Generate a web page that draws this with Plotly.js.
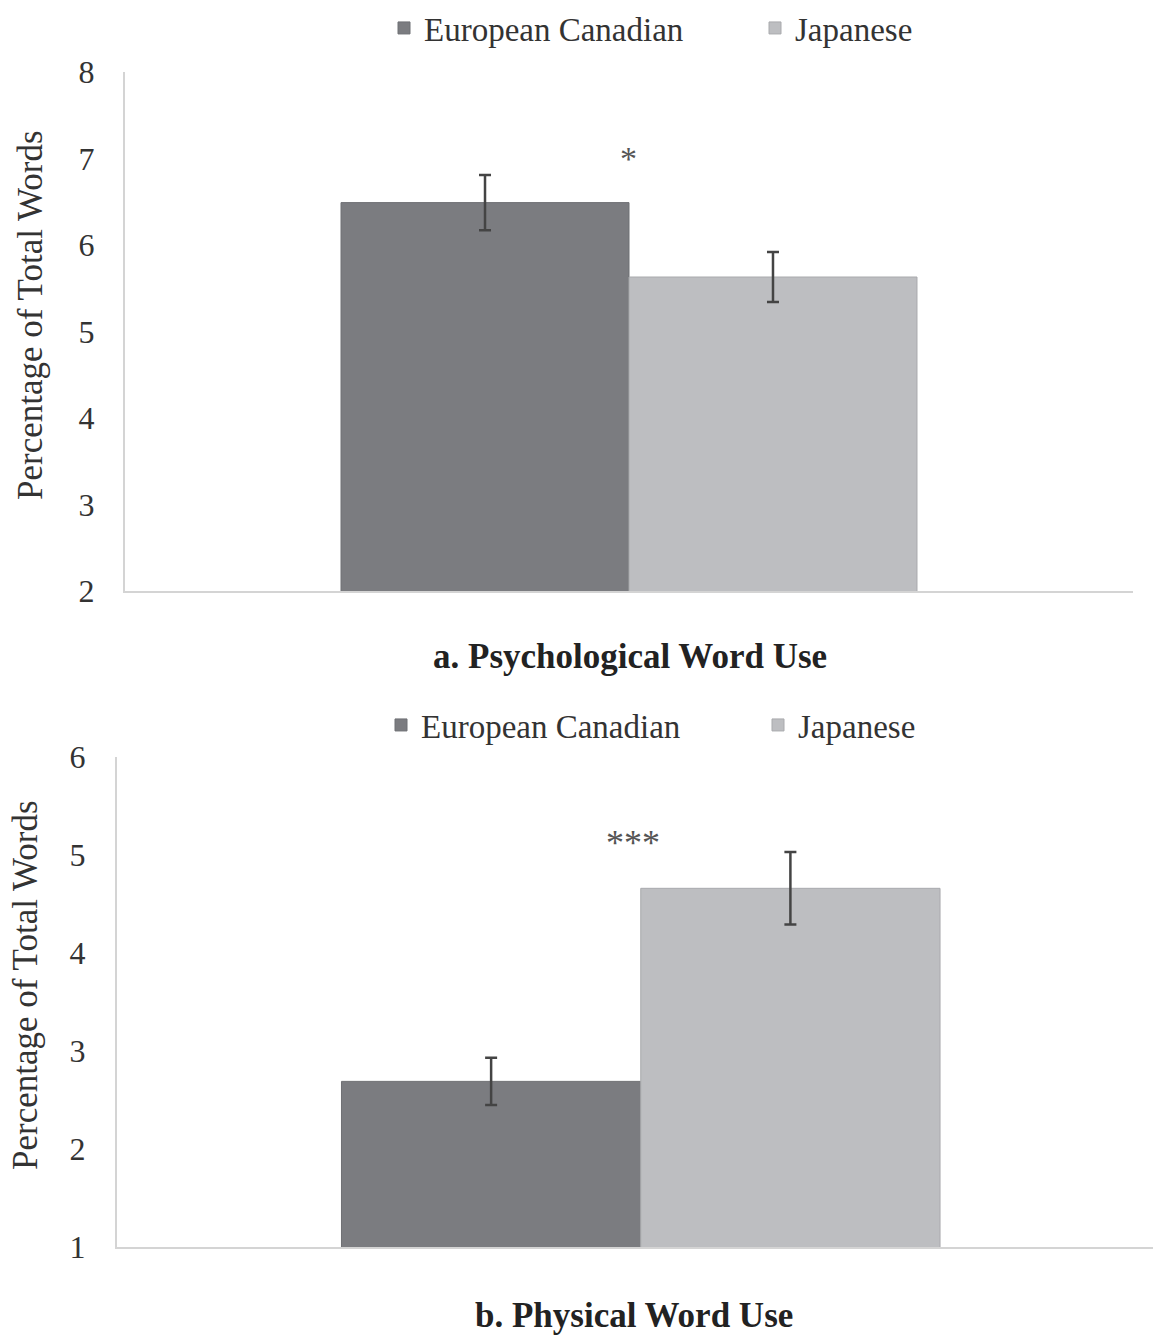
<!DOCTYPE html>
<html>
<head>
<meta charset="utf-8">
<script src="https://cdn.plot.ly/plotly-3.0.1.min.js"></script>
<style>html,body{margin:0;padding:0;background:#fff;}#chart{width:1153px;height:1336px;}</style>
</head>
<body>
<div id="chart"></div>
<script>
// Data
const groups = ["European Canadian", "Japanese"];
const psychMeans = [6.49, 5.63];
const psychErrors = [0.32, 0.29];
const physMeans = [2.69, 4.66];
const physErrors = [0.24, 0.37];
const panelTitles = ["a. Psychological Word Use", "b. Physical Word Use"];
const psychSig = "*";
const physSig = "***";
const yTitle = "Percentage of Total Words";

const colors = ["#7b7c80", "#bdbec1"];
const edge = ["#6f7074", "#a9aaad"];
const serif = "Liberation Serif, Times New Roman, serif";

const W = 1153, H = 1336;
const px = v => v / W;
const py = v => 1 - v / H;

const traces = [];
groups.forEach((g, i) => {
  traces.push({
    type: "bar", name: g, x: [0], y: [psychMeans[i]],
    xaxis: "x", yaxis: "y", legend: "legend",
    marker: {color: colors[i], line: {color: edge[i], width: 1}},
    error_y: {type: "data", array: [psychErrors[i]], visible: true, color: "#444", thickness: 2.5, width: 6},
    hoverinfo: "skip"
  });
});
groups.forEach((g, i) => {
  traces.push({
    type: "bar", name: g, x: [0], y: [physMeans[i]],
    xaxis: "x2", yaxis: "y2", legend: "legend2",
    marker: {color: colors[i], line: {color: edge[i], width: 1}},
    error_y: {type: "data", array: [physErrors[i]], visible: true, color: "#444", thickness: 2.5, width: 6},
    hoverinfo: "skip"
  });
});

const axisCommon = {
  showgrid: false, zeroline: false, showline: true,
  linecolor: "#d4d4d4", linewidth: 2, ticks: "",
  tickfont: {family: serif, size: 32, color: "#333"}
};

const layout = {
  width: W, height: H,
  margin: {l: 0, r: 0, t: 0, b: 0},
  paper_bgcolor: "#fff", plot_bgcolor: "#fff",
  barmode: "group", bargap: 0.4286, bargroupgap: 0,
  showlegend: true,
  xaxis: Object.assign({}, axisCommon, {domain: [px(125), px(1133)], range: [-0.5, 0.5], showticklabels: false, anchor: "y"}),
  yaxis: Object.assign({}, axisCommon, {domain: [py(591), py(72)], range: [2, 8], dtick: 1, anchor: "x",
    ticklabelstandoff: 22}),
  xaxis2: Object.assign({}, axisCommon, {domain: [px(117), 1], range: [-0.5, 0.489], showticklabels: false, anchor: "y2"}),
  yaxis2: Object.assign({}, axisCommon, {domain: [py(1247), py(757)], range: [1, 6], dtick: 1, anchor: "x2",
    ticklabelstandoff: 23}),
  legend: {orientation: "h", x: px(384), y: 1, xanchor: "left", yanchor: "top",
    font: {family: serif, size: 33, color: "#333"}, itemwidth: 30, entrywidth: 326, entrywidthmode: "pixels",
    bgcolor: "rgba(0,0,0,0)", borderwidth: 0},
  legend2: {orientation: "h", x: px(381), y: py(697), xanchor: "left", yanchor: "top",
    font: {family: serif, size: 33, color: "#333"}, itemwidth: 30, entrywidth: 332, entrywidthmode: "pixels",
    bgcolor: "rgba(0,0,0,0)"},
  annotations: [
    {xref: "paper", yref: "paper", x: px(30), y: py(315), text: yTitle, textangle: -90, showarrow: false,
      xanchor: "center", yanchor: "middle", font: {family: serif, size: 35, color: "#333"}},
    {xref: "paper", yref: "paper", x: px(25), y: py(985), text: yTitle, textangle: -90, showarrow: false,
      xanchor: "center", yanchor: "middle", font: {family: serif, size: 35, color: "#333"}},
    {xref: "x", yref: "y", x: 0, y: 7.0, text: psychSig, showarrow: false, xshift: -1,
      font: {family: serif, size: 34, color: "#555"}},
    {xref: "x2", yref: "y2", x: 0, y: 5.12, text: physSig, showarrow: false, xshift: -8,
      font: {family: serif, size: 36, color: "#555"}},
    {xref: "paper", yref: "paper", x: px(630), y: py(656), text: "<b>" + panelTitles[0] + "</b>", showarrow: false,
      xanchor: "center", yanchor: "middle", font: {family: serif, size: 35, color: "#222"}},
    {xref: "paper", yref: "paper", x: px(634), y: py(1315), text: "<b>" + panelTitles[1] + "</b>", showarrow: false,
      xanchor: "center", yanchor: "middle", font: {family: serif, size: 35, color: "#222"}}
  ]
};

Plotly.newPlot("chart", traces, layout, {displayModeBar: false, staticPlot: true});
</script>
</body>
</html>
